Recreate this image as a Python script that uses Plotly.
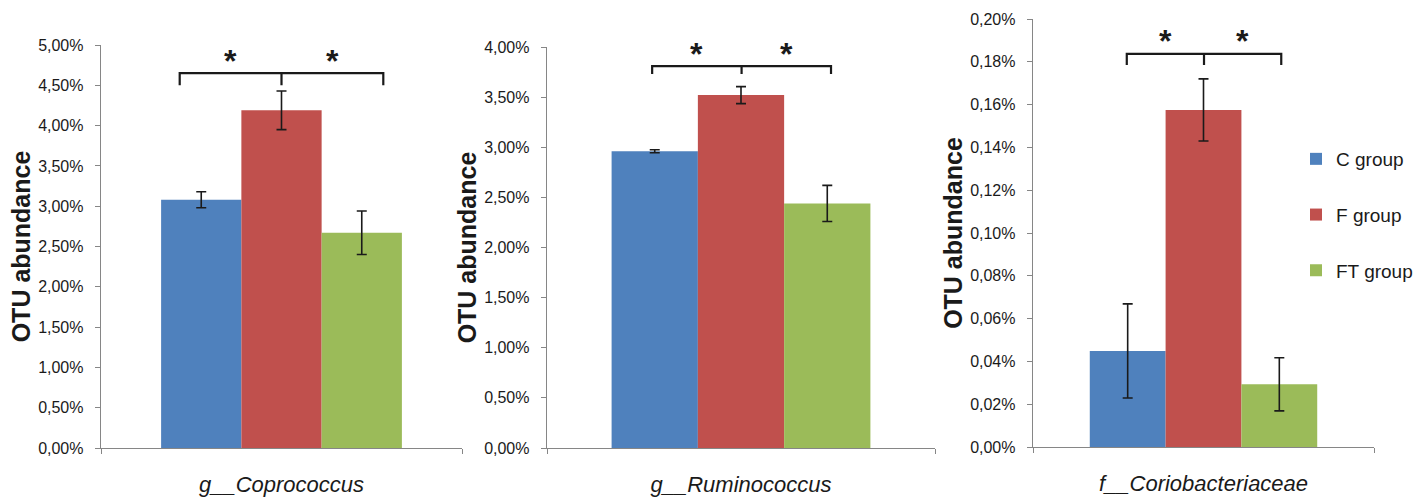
import plotly.graph_objects as go

# ---------------- data ----------------
groups = ["C group", "F group", "FT group"]
colors = ["#4F81BD", "#C0504D", "#9BBB59"]

taxa = ["g__Coprococcus", "g__Ruminococcus", "f__Coriobacteriaceae"]

# mean OTU abundance (%) per group, per taxon
coprococcus_mean = [3.08, 4.19, 2.67]
coprococcus_err = [0.10, 0.24, 0.27]

ruminococcus_mean = [2.96, 3.52, 2.44]
ruminococcus_err = [0.015, 0.085, 0.18]

coriobacteriaceae_mean = [0.0449, 0.1575, 0.0293]
coriobacteriaceae_err = [0.022, 0.0145, 0.0124]

# axis ticks
ticks_1 = [0, 0.5, 1.0, 1.5, 2.0, 2.5, 3.0, 3.5, 4.0, 4.5, 5.0]
ticktext_1 = ["0,00%", "0,50%", "1,00%", "1,50%", "2,00%", "2,50%", "3,00%", "3,50%", "4,00%", "4,50%", "5,00%"]
ticks_2 = [0, 0.5, 1.0, 1.5, 2.0, 2.5, 3.0, 3.5, 4.0]
ticktext_2 = ["0,00%", "0,50%", "1,00%", "1,50%", "2,00%", "2,50%", "3,00%", "3,50%", "4,00%"]
ticks_3 = [0, 0.02, 0.04, 0.06, 0.08, 0.10, 0.12, 0.14, 0.16, 0.18, 0.20]
ticktext_3 = ["0,00%", "0,02%", "0,04%", "0,06%", "0,08%", "0,10%", "0,12%", "0,14%", "0,16%", "0,18%", "0,20%"]

# significance brackets: (left x, right x, bracket y, end-tick y, asterisk y) per panel
brackets = [
    (-0.282, 0.282, 4.65, 4.50, 4.85),
    (-0.229, 0.232, 3.81, 3.73, 3.97),
    (-0.225, 0.228, 0.1837, 0.1785, 0.1916),
]

W, H = 1427, 504
FONT = "Liberation Sans, Arial, sans-serif"
AXIS_GRAY = "#868686"
TEXT_COL = "#1a1a1a"

panels = [
    dict(means=coprococcus_mean, errs=coprococcus_err, taxon=taxa[0],
         ticks=ticks_1, ticktext=ticktext_1, rng=[0, 5.0],
         xpx=(101, 462), ypx=(448, 45)),
    dict(means=ruminococcus_mean, errs=ruminococcus_err, taxon=taxa[1],
         ticks=ticks_2, ticktext=ticktext_2, rng=[0, 4.0],
         xpx=(547, 935), ypx=(448, 47)),
    dict(means=coriobacteriaceae_mean, errs=coriobacteriaceae_err, taxon=taxa[2],
         ticks=ticks_3, ticktext=ticktext_3, rng=[0, 0.20],
         xpx=(1033, 1374), ypx=(447, 19)),
]

fig = go.Figure()
layout = {}
shapes = []
annotations = []

for i, p in enumerate(panels):
    n = "" if i == 0 else str(i + 1)
    xa, ya = "x" + n, "y" + n
    for g, (name, col) in enumerate(zip(groups, colors)):
        fig.add_trace(go.Bar(
            x=[p["taxon"]], y=[p["means"][g]], name=name,
            marker=dict(color=col, line=dict(width=0)),
            error_y=dict(type="data", array=[p["errs"][g]], visible=True,
                         color=TEXT_COL, thickness=1.6, width=5),
            xaxis=xa, yaxis=ya, legendgroup=name, showlegend=(i == 0),
            offsetgroup=str(g),
        ))
    x0, x1 = p["xpx"]
    yb, yt = p["ypx"]
    layout["xaxis" + n] = dict(
        domain=[x0 / W, x1 / W], anchor=ya, type="category", automargin=False,
        showline=True, linecolor=AXIS_GRAY, linewidth=1.3,
        ticks="outside", tickson="boundaries", ticklen=5, tickcolor=AXIS_GRAY,
        tickfont=dict(family=FONT, size=22, color=TEXT_COL, style="italic"),
        ticklabelstandoff=16, showgrid=False, zeroline=False, fixedrange=True,
    )
    layout["yaxis" + n] = dict(
        domain=[(H - yb) / H, (H - yt) / H], anchor=xa, range=p["rng"],
        automargin=False,
        tickmode="array", tickvals=p["ticks"], ticktext=p["ticktext"],
        showline=True, linecolor=AXIS_GRAY, linewidth=1.3,
        ticks="outside", ticklen=5, tickcolor=AXIS_GRAY,
        tickfont=dict(family=FONT, size=16, color=TEXT_COL),
        ticklabelstandoff=8,
        title=dict(text="<b>OTU abundance</b>", standoff=0,
                   font=dict(family=FONT, size=25, color=TEXT_COL)),
        showgrid=False, zeroline=False, fixedrange=True,
    )
    bl, br, by, bt, ay = brackets[i]
    xc = (bl + br) / 2
    path = (f"M {bl},{bt} L {bl},{by} L {br},{by} L {br},{bt} "
            f"M {xc},{by} L {xc},{bt}")
    shapes.append(dict(type="path", path=path, xref=xa, yref=ya,
                       line=dict(color=TEXT_COL, width=2.2)))
    for ax_ in [(bl + xc) / 2, (xc + br) / 2]:
        annotations.append(dict(x=ax_, y=ay, xref=xa, yref=ya, text="<b>*</b>",
                                showarrow=False, yanchor="middle", yshift=-4,
                                font=dict(family=FONT, size=32, color=TEXT_COL)))

fig.update_layout(
    width=W, height=H, margin=dict(l=0, r=0, t=0, b=0, autoexpand=False),
    paper_bgcolor="white", plot_bgcolor="white",
    barmode="group", bargap=0.333, bargroupgap=0,
    showlegend=True,
    legend=dict(x=1296 / W, y=(H - 140) / H, xanchor="left", yanchor="top",
                font=dict(family=FONT, size=19, color=TEXT_COL),
                tracegroupgap=28, itemwidth=30, bgcolor="rgba(0,0,0,0)",
                traceorder="grouped"),
    shapes=shapes, annotations=annotations,
    **layout,
)

fig.write_html(
    "out.html",
    config={"displayModeBar": False, "staticPlot": True},
    post_script="document.body.style.margin='0';document.body.style.overflow='hidden';",
)
